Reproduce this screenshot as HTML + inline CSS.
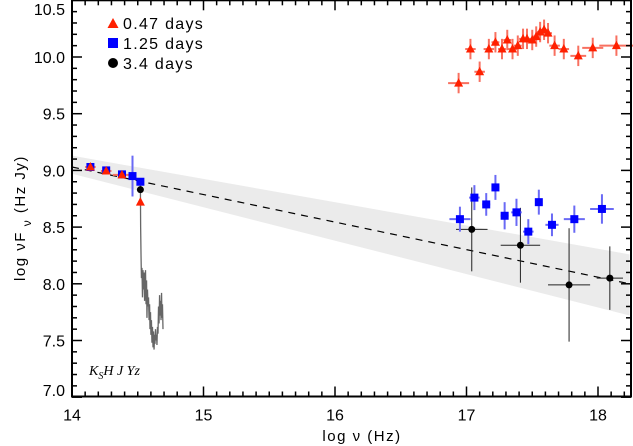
<!DOCTYPE html>
<html><head><meta charset="utf-8"><style>
body{margin:0;background:#fff;}
svg{display:block;font-family:"Liberation Sans",sans-serif;}
</style></head><body>
<svg id="c" width="633" height="446"></svg>
<script>
const redX=[14.14,14.26,14.38,14.52,16.94,17.03,17.10,17.17,17.22,17.27,17.31,17.35,17.39,17.43,17.46,17.50,17.53,17.56,17.59,17.62,17.67,17.74,17.85,17.96,18.14];
const redY=[9.03,8.995,8.96,8.72,9.77,10.07,9.87,10.07,10.13,10.07,10.15,10.07,10.10,10.16,10.16,10.15,10.18,10.22,10.24,10.21,10.10,10.07,10.01,10.08,10.10];
const redXe=[0.04,0.04,0.07,0.01,0.08,0.04,0.04,0.04,0.03,0.03,0.03,0.04,0.03,0.03,0.03,0.03,0.03,0.03,0.03,0.03,0.04,0.04,0.06,0.08,0.13];
const redYe=[0.03,0.03,0.03,0.03,0.09,0.09,0.09,0.09,0.09,0.09,0.09,0.09,0.09,0.09,0.09,0.09,0.09,0.09,0.09,0.09,0.09,0.09,0.09,0.09,0.09];
const blueX=[14.14,14.26,14.38,14.46,14.52,16.95,17.06,17.15,17.22,17.29,17.38,17.47,17.55,17.65,17.82,18.03];
const blueY=[9.03,9.0,8.965,8.95,8.90,8.57,8.76,8.70,8.85,8.60,8.63,8.46,8.72,8.52,8.57,8.66];
const blueXe=[0.02,0.02,0.02,0.02,0.02,0.08,0.04,0.03,0.03,0.03,0.04,0.04,0.02,0.05,0.08,0.09];
const blueYe=[0.02,0.02,0.02,0.18,0.02,0.11,0.11,0.1,0.11,0.12,0.12,0.11,0.11,0.1,0.12,0.13];
const blackX=[14.52,17.04,17.41,17.78,18.09];
const blackY=[8.83,8.48,8.34,7.99,8.05];
const blackXe=[0.0,0.12,0.15,0.16,0.1];
const blackYe=[0.02,0.37,0.33,0.5,0.28];
const specX=[14.52,14.522,14.525,14.528,14.532,14.536,14.54,14.544,14.548,14.552,14.555,14.559,14.563,14.567,14.57,14.574,14.578,14.582,14.586,14.59,14.593,14.597,14.60,14.604,14.608,14.612,14.616,14.62,14.624,14.628,14.631,14.635,14.639,14.643,14.646,14.65,14.654,14.658,14.662,14.666,14.669,14.673,14.677,14.681,14.684,14.688,14.692];
const specY=[8.9,8.5,8.245,8.05,8.14,7.88,8.12,7.95,8.10,7.85,7.98,8.12,7.82,8.03,7.70,7.95,7.80,7.88,7.68,7.82,7.60,7.75,7.55,7.68,7.48,7.62,7.44,7.58,7.42,7.55,7.47,7.60,7.50,7.55,7.46,7.62,7.56,7.80,7.65,7.90,7.72,7.85,7.68,7.92,7.70,7.82,7.60];
const fitX=[14,18.24];
const fitY=[9.03,8.0];
const bandTop=[9.13,8.26];
const bandBot=[8.97,7.72];
const xTicks=[14,15,16,17,18];
const yTicks=[7.0,7.5,8.0,8.5,9.0,9.5,10.0,10.5];

const L=72,R=631,T=0.3,B=396.5;
const X=v=>L+(v-14)*131.5;
const Y=v=>T+(10.5-v)*113.4;
const svg=document.getElementById('c');
const NS='http://www.w3.org/2000/svg';
function mk(tag,at,parent){const e=document.createElementNS(NS,tag);for(const k in at)e.setAttribute(k,at[k]);(parent||svg).appendChild(e);return e;}

let e=mk('polygon',{points:`${X(fitX[0])},${Y(bandTop[0])} ${X(fitX[1])},${Y(bandTop[1])} ${X(fitX[1])},${Y(bandBot[1])} ${X(fitX[0])},${Y(bandBot[0])}`,fill:'#ebebeb'});


e=mk('line',{x1:X(fitX[0]),y1:Y(fitY[0]),x2:X(fitX[1]),y2:Y(fitY[1]),stroke:'#000','stroke-width':1.2,'stroke-dasharray':'7,6'});



e=mk('polyline',{points:specX.map((x,i)=>X(x)+','+Y(specY[i])).join(' '),fill:'none',stroke:'#666','stroke-width':1.3});



function errs(xs,ys,xe,ye,col,w,name){
  const g=mk('g',{});
  
  
  xs.forEach((x,i)=>{
    mk('line',{x1:X(x),x2:X(x),y1:Y(ys[i]+ye[i]),y2:Y(ys[i]-ye[i]),stroke:col,'stroke-width':w},g);
    mk('line',{x1:X(x-xe[i]),x2:X(x+xe[i]),y1:Y(ys[i]),y2:Y(ys[i]),stroke:col,'stroke-width':w},g);
  });
}
errs(blackX,blackY,blackXe,blackYe,'#222',1,'black');
errs(blueX,blueY,blueXe,blueYe,'#6a6af5',2,'blue');
errs(redX,redY,redXe,redYe,'#f87060',2,'red');

blackX.forEach((x,i)=>{const c=mk('circle',{cx:X(x),cy:Y(blackY[i]),r:3.5,fill:'#000'});

});
blueX.forEach((x,i)=>{const c=mk('rect',{x:X(x)-4,y:Y(blueY[i])-4,width:8,height:8,fill:'#0000ff'});

});
redX.forEach((x,i)=>{const cx=X(x),cy=Y(redY[i]);const c=mk('polygon',{points:`${cx},${cy-5} ${cx+4.5},${cy+3.5} ${cx-4.5},${cy+3.5}`,fill:'#ff2000'});

});

const ax=mk('g',{});


mk('rect',{x:L,y:T,width:R-L,height:B-T,fill:'none',stroke:'#000','stroke-width':2},ax);
for(let v=14;v<=18.25;v+=0.1){const vv=Math.round(v*10)/10;const maj=Math.abs(vv-Math.round(vv))<1e-6;const len=maj?10:5;const x=X(vv);if(x>R)break;
 mk('line',{x1:x,x2:x,y1:B,y2:B-len,stroke:'#000','stroke-width':1.5},ax);
 mk('line',{x1:x,x2:x,y1:T,y2:T+len,stroke:'#000','stroke-width':1.5},ax);}
for(let k=70;k<=105;k++){const v=k/10;const maj=k%5==0;const len=maj?10:5;const y=Y(v);
 mk('line',{x1:L,x2:L+len,y1:y,y2:y,stroke:'#000','stroke-width':1.5},ax);
 mk('line',{x1:R,x2:R-len,y1:y,y2:y,stroke:'#000','stroke-width':1.5},ax);}
xTicks.forEach(v=>{const t=mk('text',{x:X(v),y:B+24,'text-anchor':'middle','font-size':16},ax);t.textContent=v;

});
yTicks.forEach(v=>{const by=Math.min(396,Math.max(15,Y(v)+6));const t=mk('text',{x:L-7,y:by,'text-anchor':'end','font-size':16},ax);t.textContent=v.toFixed(1);

});
</script>
<svg width="633" height="446" style="position:absolute;left:0;top:0">
<text x="362" y="441" text-anchor="middle" font-size="15" letter-spacing="1.5" font-family="Liberation Sans,sans-serif">log ν  (Hz)</text>
<text transform="translate(25,218) rotate(-90)" text-anchor="middle" font-size="15" letter-spacing="1.5" font-family="Liberation Sans,sans-serif">log νF<tspan font-size="12" dy="6"> ν</tspan><tspan dy="-6">  (Hz Jy)</tspan></text>
<text x="89" y="375" font-size="14" font-style="italic" font-family="Liberation Serif,serif">K<tspan font-size="10" dy="4">S</tspan><tspan dy="-4">H J Yz</tspan></text>
<g font-family="Liberation Sans,sans-serif" font-size="16" letter-spacing="1.3">
<polygon points="113,18 118.5,28 107.5,28" fill="#ff2000"/>
<text x="123" y="29">0.47 days</text>
<rect x="108" y="38" width="10" height="10" fill="#0000ff"/>
<text x="123" y="49">1.25 days</text>
<circle cx="113" cy="63" r="5" fill="#000"/>
<text x="123" y="69">3.4 days</text>
</g>
</svg>
</body></html>
